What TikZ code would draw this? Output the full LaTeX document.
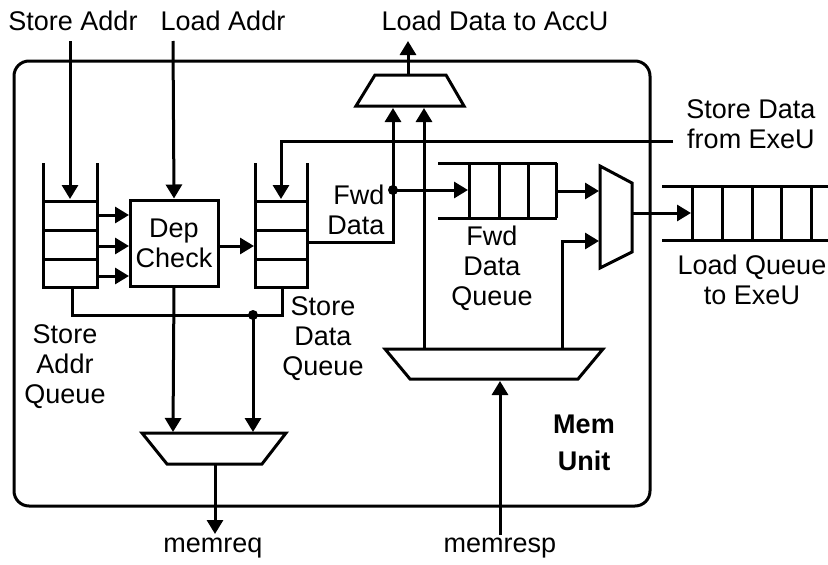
\documentclass[tikz,border=0pt]{standalone}
\usepackage{fontspec}
\setmainfont{Liberation Sans}
\usetikzlibrary{arrows.meta}
\begin{document}
\begin{tikzpicture}[x=1pt,y=-1pt,line width=3pt,
  arr/.style={-{Triangle[width=16pt,length=14pt]}},
  lbl/.style={font=\fontsize{27}{30}\selectfont,align=center,inner sep=0pt},
  dot/.style={circle,fill=black,inner sep=0pt,minimum size=10pt},
  boxnode/.style={draw,minimum width=88pt,minimum height=86pt,inner sep=0pt}]
\useasboundingbox (0,0) rectangle (828,565);

% outer unit
\draw[rounded corners=15pt] (14,61) rectangle (650,506);

% labels
\node[lbl] (tSA) at (73,21) {Store Addr};
\node[lbl] (tLA) at (223,21) {Load Addr};
\node[lbl] (tLD) at (495,21) {Load Data to AccU};
\node[lbl] (tSD) at (751,124) {Store Data\\from ExeU};
\node[lbl,align=right,anchor=east] (tFwd) at (386,210) {Fwd\\Data};
\node[lbl] (tFQ) at (492,268) {Fwd\\Data\\Queue};
\node[lbl] (tSAQ) at (65,367) {Store\\Addr\\Queue};
\node[lbl] (tSDQ) at (323,339) {Store\\Data\\Queue};
\node[lbl] (tLQ) at (752,280) {Load Queue\\to ExeU};
\node[lbl,font=\fontsize{27}{37}\selectfont\bfseries] (tMU) at (584,443) {Mem\\Unit};
\node[lbl] (tMQ) at (213,548) {memreq};
\node[lbl] (tMR) at (500,548) {memresp};

% store addr queue
\draw (43,163) -- (43,287) -- (97,287) -- (97,163);
\draw (43,201) -- (97,201) (43,230) -- (97,230) (43,259) -- (97,259);
% store data queue
\draw (255,163) -- (255,287) -- (307,287) -- (307,163);
\draw (255,201) -- (307,201) (255,230) -- (307,230) (255,259) -- (307,259);
% dep check
\node[boxnode,lbl,draw] (dep) at (174,243) {Dep\\Check};

% fwd data queue
\draw (438,163) -- (557,163) (438,218) -- (557,218);
\foreach \x in {469,499,528,556} \draw (\x,163) -- (\x,218);
% load queue
\draw (662,186) -- (828,186) (662,240) -- (828,240);
\foreach \x in {692,722,752,781,811} \draw (\x,186) -- (\x,240);

% muxes
\draw (375,75) -- (446,75) -- (464,106) -- (356,106) -- cycle;
\draw (600,166) -- (632,183) -- (632,252) -- (600,268) -- cycle;
\draw (385,349) -- (603,349) -- (578,379) -- (410,379) -- cycle;
\draw (142,433) -- (286,433) -- (262,464) -- (167,464) -- cycle;

% coordinates
\coordinate (saTop) at (70,41);   \coordinate (saQ) at (70,199);
\coordinate (laTop) at (173,41);
\foreach \y/\n in {215/a,246/b,276/c} {
  \coordinate (q\n) at (97,\y); \coordinate (d\n) at (129,\y);}
\coordinate (depR) at (218,246); \coordinate (sdqL) at (254,246);
\coordinate (sdIn) at (673,141); \coordinate (sdBend) at (281,141); \coordinate (sdQ) at (281,199);
\coordinate (sdqR) at (307,242); \coordinate (fwdBend) at (393,242);
\coordinate (fwdJ) at (393,190); \coordinate (muxTopA) at (393,108);
\coordinate (fqIn) at (468,190);
\coordinate (fqOut) at (557,191); \coordinate (rmA) at (599,191);
\coordinate (bmR) at (562,349); \coordinate (bmRbend) at (562,241); \coordinate (rmB) at (599,241);
\coordinate (rmOut) at (632,213); \coordinate (lqIn) at (691,213);
\coordinate (tmOut) at (408,75); \coordinate (tmTip) at (408,41);
\coordinate (bmL) at (424,349); \coordinate (muxTopB) at (424,108);
\coordinate (mrBot) at (500,535); \coordinate (bmIn) at (500,381);
\coordinate (saqB) at (72,287); \coordinate (saqBend) at (72,315);
\coordinate (sdqBend) at (282,315); \coordinate (sdqB) at (282,287);
\coordinate (jn) at (253,315);
\coordinate (mqA) at (173,432); \coordinate (mqB) at (253,432);
\coordinate (mqOut) at (215,464); \coordinate (mqTip) at (215,534);

% connectors
\draw[arr] (saTop) -- (saQ);
\draw[arr] (laTop) -- (dep.north);
\draw[arr] (qa) -- (da);
\draw[arr] (qb) -- (db);
\draw[arr] (qc) -- (dc);
\draw[arr] (depR) -- (sdqL);
\draw[arr] (sdIn) -- (sdBend) -- (sdQ);
\draw[arr] (sdqR) -- (fwdBend) -- (muxTopA);
\draw[arr] (fwdJ) -- (fqIn);
\node[dot] (fwdDot) at (fwdJ) {};
\draw[arr] (fqOut) -- (rmA);
\draw[arr] (bmR) -- (bmRbend) -- (rmB);
\draw[arr] (rmOut) -- (lqIn);
\draw[arr] (tmOut) -- (tmTip);
\draw[arr] (bmL) -- (muxTopB);
\draw[arr] (mrBot) -- (bmIn);
\draw (saqB) -- (saqBend) -- (sdqBend) -- (sdqB);
\node[dot] (jDot) at (jn) {};
\draw[arr] (dep.south) -- (mqA);
\draw[arr] (jn) -- (mqB);
\draw[arr] (mqOut) -- (mqTip);
\end{tikzpicture}
\end{document}
